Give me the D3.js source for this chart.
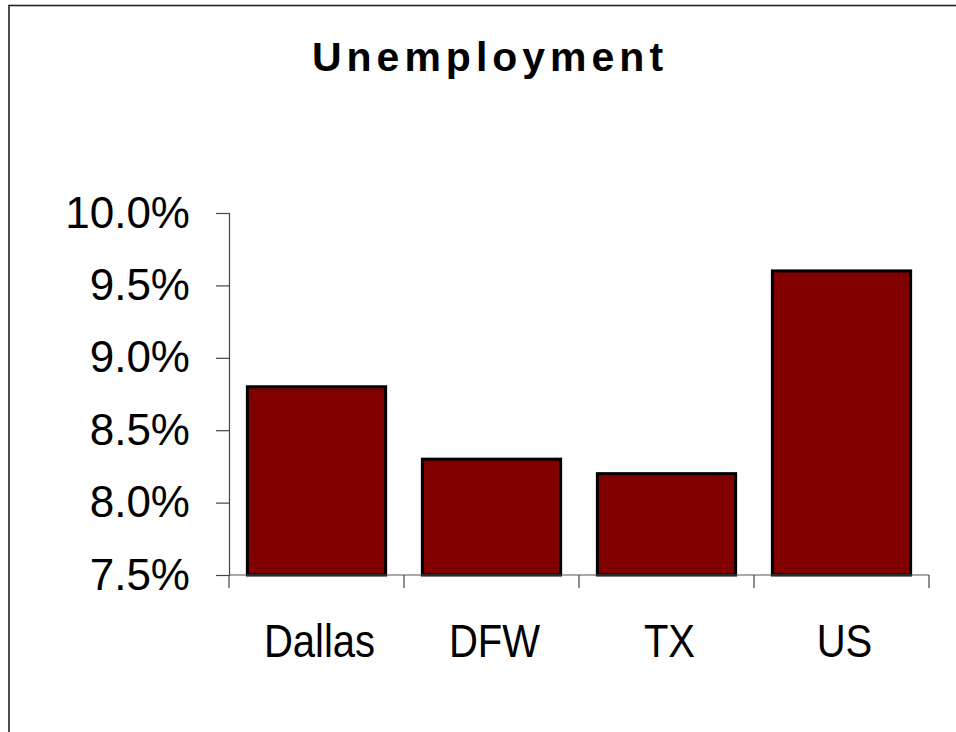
<!DOCTYPE html>
<html>
<head>
<meta charset="utf-8">
<script src="https://cdn.jsdelivr.net/npm/d3@7"></script>
<style>
  html, body { margin: 0; padding: 0; background: #fff; overflow: hidden; }
  svg { display: block; }
</style>
</head>
<body>
<svg id="chart" width="956" height="732"></svg>
<script>
const title = "Unemployment";
const categories = ["Dallas", "DFW", "TX", "US"];
const values = [8.8, 8.3, 8.2, 9.6];
const yTicks = [7.5, 8.0, 8.5, 9.0, 9.5, 10.0];

(function () {
const svg = d3.select("#chart");
const W = 956, H = 732;
const mLeft = 229, mRight = 929, mTop = 213, mBottom = 575;

// frame (extends past right/bottom edges)
svg.append("rect")
  .attr("x", 9).attr("y", 5.5)
  .attr("width", W + 20).attr("height", H + 20)
  .attr("fill", "#fff").attr("stroke", "#222").attr("stroke-width", 1.6);

const pIn = 0.21;
const x = d3.scaleBand().domain(categories).range([mLeft, mRight])
  .paddingInner(pIn).paddingOuter(pIn / 2);
const y = d3.scaleLinear().domain([7.5, 10.0]).range([mBottom, mTop]);

// title
svg.append("text")
  .attr("x", 490).attr("y", 71)
  .attr("text-anchor", "middle")
  .attr("font-family", "Arial, 'Liberation Sans', sans-serif")
  .attr("font-weight", "bold")
  .attr("font-size", 41)
  .attr("letter-spacing", 5)
  .attr("fill", "#000")
  .text(title);

// y axis
const yAxis = d3.axisLeft(y).tickValues(yTicks).tickSize(13).tickPadding(26)
  .tickFormat(d => d.toFixed(1) + "%");
const gy = svg.append("g").attr("transform", `translate(${mLeft},0)`).call(yAxis);
gy.select(".domain").attr("stroke", "#444").attr("stroke-width", 1.2);
gy.selectAll(".tick line").attr("stroke", "#444").attr("stroke-width", 1.2);
gy.selectAll(".tick text")
  .attr("font-family", "Arial, 'Liberation Sans', sans-serif")
  .attr("font-size", 44).attr("fill", "#000");

// bars
svg.append("g").selectAll("rect")
  .data(categories)
  .join("rect")
  .attr("x", d => x(d))
  .attr("y", (d, i) => y(values[i]))
  .attr("width", x.bandwidth())
  .attr("height", (d, i) => y(7.5) - y(values[i]))
  .attr("fill", "#800000")
  .attr("stroke", "#000")
  .attr("stroke-width", 3);

// x axis baseline and band-boundary ticks
const gx = svg.append("g");
gx.append("line")
  .attr("x1", mLeft).attr("x2", mRight)
  .attr("y1", mBottom).attr("y2", mBottom)
  .attr("stroke", "#555").attr("stroke-width", 1.2);
const step = x.step();
const boundaries = categories.map(c => x(c) - step * pIn / 2).concat([mRight]);
gx.selectAll("line.tk").data(boundaries).join("line")
  .attr("class", "tk")
  .attr("x1", d => d).attr("x2", d => d)
  .attr("y1", mBottom).attr("y2", mBottom + 13)
  .attr("stroke", "#444").attr("stroke-width", 1.2);

// category labels (slightly condensed, like the reference)
gx.selectAll("text").data(categories).join("text")
  .attr("transform", d => `translate(${x(d) + x.bandwidth() / 2 + 3},657) scale(0.87,1)`)
  .attr("text-anchor", "middle")
  .attr("font-family", "Arial, 'Liberation Sans', sans-serif")
  .attr("font-size", 46)
  .attr("fill", "#000")
  .text(d => d);
})();
</script>
</body>
</html>
